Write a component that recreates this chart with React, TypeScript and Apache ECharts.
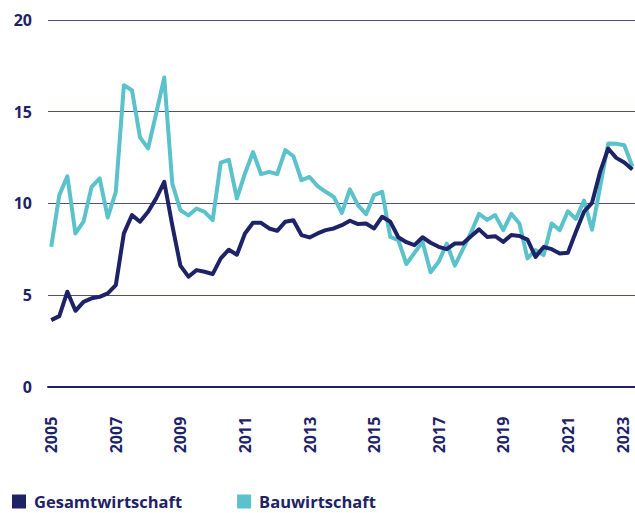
import React, { useEffect, useRef } from "react";
import * as echarts from "echarts";

const START_YEAR = 2005;
const yearLabels = [2005, 2007, 2009, 2011, 2013, 2015, 2017, 2019, 2021, 2023];
const seriesNames = ["Gesamtwirtschaft", "Bauwirtschaft"];

// quarterly values, 2005 Q1 .. 2023 Q1
const gesamt = [
  3.63, 3.85, 5.18, 4.14, 4.63, 4.82, 4.9, 5.09, 5.54, 8.36, 9.36, 9.0, 9.54, 10.27, 11.17, 8.8,
  6.6, 6.0, 6.36, 6.27, 6.14, 7.0, 7.47, 7.2, 8.36, 8.94, 8.94, 8.63, 8.5, 9.0, 9.08, 8.27,
  8.14, 8.36, 8.54, 8.63, 8.81, 9.05, 8.87, 8.9, 8.63, 9.27, 9.0, 8.15, 7.88, 7.72, 8.15, 7.85,
  7.63, 7.5, 7.81, 7.81, 8.21, 8.58, 8.17, 8.21, 7.9, 8.27, 8.22, 8.02, 7.08, 7.62, 7.5, 7.27,
  7.3, 8.45, 9.54, 10.03, 11.72, 12.99, 12.48, 12.23, 11.85,
];
const bau = [
  7.63, 10.45, 11.48, 8.36, 9.0, 10.9, 11.36, 9.23, 10.63, 16.44, 16.17, 13.6, 13.0, 14.9, 16.86, 11.08,
  9.63, 9.34, 9.72, 9.54, 9.08, 12.22, 12.37, 10.27, 11.63, 12.8, 11.59, 11.72, 11.59, 12.9, 12.57, 11.26,
  11.44, 10.94, 10.63, 10.35, 9.48, 10.76, 9.9, 9.41, 10.45, 10.63, 8.17, 8.0, 6.69, 7.3, 7.9, 6.24,
  6.81, 7.81, 6.6, 7.5, 8.4, 9.43, 9.1, 9.36, 8.54, 9.43, 8.9, 7.0, 7.45, 7.18, 8.9, 8.54,
  9.57, 9.15, 10.15, 8.56, 10.9, 13.26, 13.25, 13.17, 12.0,
];

const NAVY = "#1e2266";
const CYAN = "#5bc1cb";
const FONT = "Open Sans";

export default function App() {
  const ref = useRef<HTMLDivElement>(null);
  useEffect(() => {
    if (!ref.current) return;
    const chart = echarts.init(ref.current, null, { renderer: "svg" });
    const toPoints = (arr: number[]) => arr.map((v, i) => [START_YEAR + i / 4, v]);
    // last label nudged slightly inward so it stays inside the picture
    const labelPositions = yearLabels.map((y, i) => (i === yearLabels.length - 1 ? y - 0.3 : y));
    chart.setOption({
      animation: false,
      grid: { left: 48, right: 0, top: 20, bottom: 126.3, containLabel: false },
      legend: {
        data: seriesNames,
        left: 12,
        top: 493,
        padding: 0,
        icon: "rect",
        itemWidth: 14,
        itemHeight: 14,
        itemGap: 55,
        textStyle: {
          color: NAVY,
          fontFamily: FONT,
          fontWeight: "bold",
          fontSize: 16.5,
          lineHeight: 16,
          padding: [0, 0, 0, 3],
        },
      },
      xAxis: {
        type: "value",
        min: 2004.9,
        max: 2023.08,
        axisLine: { show: true, onZero: true, lineStyle: { color: NAVY, width: 2 } },
        axisTick: { show: false },
        splitLine: { show: false },
        axisLabel: {
          customValues: labelPositions,
          rotate: 90,
          margin: 30,
          color: NAVY,
          fontFamily: FONT,
          fontWeight: "bold",
          fontSize: 16,
          formatter: (v: number) => String(Math.round(v)),
        },
      },
      yAxis: {
        type: "value",
        min: 0,
        max: 20,
        interval: 5,
        axisLine: { show: false },
        axisTick: { show: false },
        splitLine: { show: true, lineStyle: { color: "#4a4f86", width: 1 } },
        axisLabel: {
          margin: 16,
          color: NAVY,
          fontFamily: FONT,
          fontWeight: "bold",
          fontSize: 16,
        },
      },
      series: [
        {
          name: "Bauwirtschaft",
          type: "line",
          data: toPoints(bau),
          showSymbol: false,
          symbol: "none",
          lineStyle: { color: CYAN, width: 4, join: "round" },
          itemStyle: { color: CYAN },
          z: 2,
        },
        {
          name: "Gesamtwirtschaft",
          type: "line",
          data: toPoints(gesamt),
          showSymbol: false,
          symbol: "none",
          lineStyle: { color: NAVY, width: 4, join: "round" },
          itemStyle: { color: NAVY },
          z: 3,
        },
      ],
    });
    return () => chart.dispose();
  }, []);
  return (
    <div
      ref={ref}
      style={{ position: "fixed", left: 0, top: 0, width: 635, height: 513, background: "#fff" }}
    />
  );
}
